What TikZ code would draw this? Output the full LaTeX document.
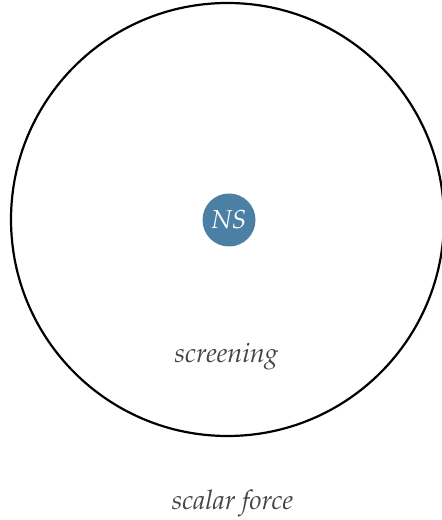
\documentclass[tikz,border=0pt]{standalone}
\usepackage[T1]{fontenc}
\usepackage{mathpazo}
\usepackage{xcolor}
\usepackage{tikz}
\usetikzlibrary{positioning}
\definecolor{nsblue}{RGB}{76,127,164}
\definecolor{labelgray}{RGB}{68,68,68}

\begin{document}
\begin{tikzpicture}[
        x=1pt, y=1pt,
        fieldring/.style = {draw=black, line width=2.2pt, circle, minimum size=433pt, inner sep=0pt},
        nsdisc/.style = {circle, fill=nsblue, minimum size=53pt, inner sep=0pt, text=white, font=\fontsize{26}{30}\selectfont\itshape},
        labeltext/.style = {text=labelgray, anchor=base, inner sep=0pt, font=\fontsize{27}{32}\selectfont\itshape}
    ]
        \useasboundingbox (0,0) rectangle (442,520);

        % Screening region
        \node (field) [fieldring] at (227.5,300.5) {};

        % Neutron star
        \node (ns) [nsdisc] at (229,300) {NS};

        % Labels
        \node (screen) [labeltext] at (226.5,157) {screening};
        \node (force) [labeltext] at (232.5,10) {scalar force};

    \end{tikzpicture}
\end{document}
